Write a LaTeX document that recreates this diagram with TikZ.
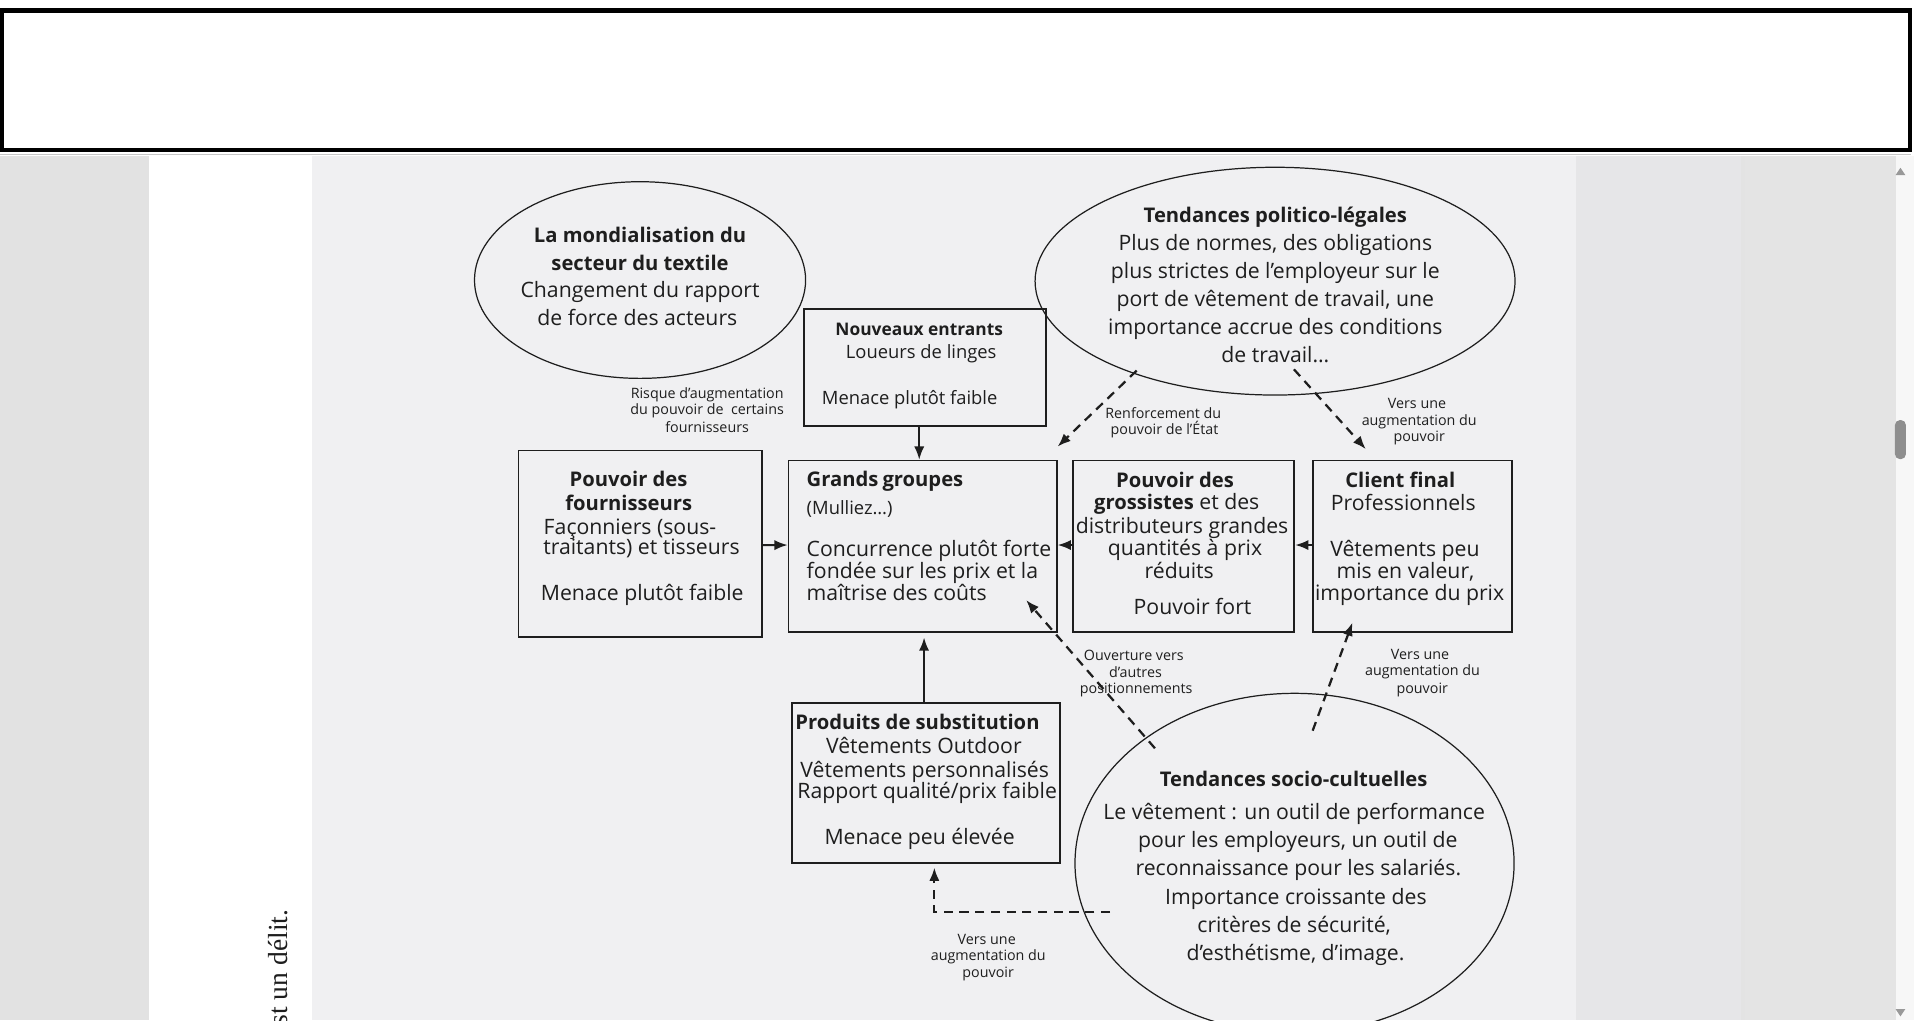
\documentclass[tikz,border=0pt]{standalone}
\usepackage{fontspec}
\setmainfont{Open Sans}
\newfontfamily\serifrot{Liberation Serif}
\usetikzlibrary{shapes.geometric,arrows.meta,calc}
\definecolor{panel}{HTML}{F0F0F2}
\definecolor{panelb}{HTML}{E6E6E8}
\definecolor{side}{HTML}{E4E4E4}
\definecolor{leftg}{HTML}{E2E2E2}
\definecolor{ink}{HTML}{1E1E1E}
\definecolor{thumb}{HTML}{8E8E8E}
\begin{document}
\begin{tikzpicture}[x=0.6pt,y=-0.6pt,
  ell/.style={draw=ink, ellipse, line width=0.6pt, inner sep=0pt},
  boxn/.style={draw=ink, rectangle, line width=0.85pt, inner sep=0pt},
  tm/.style={inner sep=0pt, anchor=base, text=ink, font=\fontsize{10.4}{12}\selectfont},
  tb/.style={tm, font=\fontsize{9.9}{12}\selectfont\bfseries},
  tn/.style={tm, font=\fontsize{9}{11}\selectfont},
  tnb/.style={tm, font=\fontsize{8.5}{11}\selectfont\bfseries},
  ts/.style={tm, font=\fontsize{7}{8}\selectfont},
  arr/.style={draw=ink, line width=1pt, -{Latex[length=6.5pt,width=5pt]}},
  darr/.style={arr, line width=1.1pt, dash pattern=on 4.5pt off 3.2pt}]
\useasboundingbox (0,0) rectangle (1568,833);
% ---------- screen background ----------
\fill[white] (0,0) rectangle (1568,833);
\fill[leftg] (0,127) rectangle (122,833);
\fill[white] (122,127) rectangle (255,833);
\fill[panel] (255,127) rectangle (1287,833);
\fill[panelb] (1287,127) rectangle (1422,833);
\fill[side] (1422,127) rectangle (1548,833);
\fill[black!11] (1422,127) rectangle (1425,833);
\fill[white!97!black] (1548,127) rectangle (1563,833);
\draw[black!22, line width=0.6pt] (0,126) -- (1561,126);
% scrollbar
\fill[black!40] (1548,143) -- (1556,143) -- (1552,137) -- cycle;
\fill[black!40] (1548,824) -- (1556,824) -- (1552,830) -- cycle;
\fill[thumb, rounded corners=2.5pt] (1547.5,343) rectangle (1556.5,375);
% top framed box
\draw[black, line width=2.2pt, fill=white] (1.8,8.6) rectangle (1559.7,122.6);
% rotated page text
\node[rotate=90, anchor=base east, inner sep=0pt, text=ink,
      font=\serifrot\fontsize{13.5}{15}\selectfont] (delit) at (235,742.6) {est un délit.};
% ---------- shapes ----------
\node[ell, minimum width=270.4*0.6pt, minimum height=160.6*0.6pt] (A) at (522.7,228.7) {};
\node[ell, minimum width=392*0.6pt, minimum height=186*0.6pt] (B) at (1041.3,229.6) {};
\node[ell, minimum width=358.6*0.6pt, minimum height=277.6*0.6pt] (T) at (1057.2,705) {};
\node[boxn, minimum width=198.2*0.6pt, minimum height=95.3*0.6pt] (N) at (755.4,300.25) {};
\node[boxn, minimum width=198.7*0.6pt, minimum height=152.4*0.6pt] (F) at (522.85,444.2) {};
\node[boxn, minimum width=219*0.6pt, minimum height=139.7*0.6pt] (G) at (753.5,446) {};
\node[boxn, minimum width=181*0.6pt, minimum height=140*0.6pt] (W) at (966.5,446) {};
\node[boxn, minimum width=162.5*0.6pt, minimum height=140*0.6pt] (C) at (1153.25,446) {};
\node[boxn, minimum width=218.7*0.6pt, minimum height=130.1*0.6pt] (S) at (756.35,639.45) {};
% ---------- texts ----------
% ellipse mondialisation
\node[tb] (a1) at (522.7,198) {La mondialisation du};
\node[tb] (a2) at (522.7,220.5) {secteur du textile};
\node[tm] (a3) at (522.7,243) {Changement du rapport};
\node[tm] (a4) at (520.5,265.5) {de force des acteurs};
% ellipse politico-legales
\node[tb] (b1) at (1041.5,182) {Tendances politico-légales};
\node[tm] (b2) at (1041.5,204.8) {Plus de normes, des obligations};
\node[tm] (b3) at (1041.5,227.6) {plus strictes de l’employeur sur le};
\node[tm] (b4) at (1041.5,250.4) {port de vêtement de travail, une};
\node[tm] (b5) at (1041.5,273.2) {importance accrue des conditions};
\node[tm] (b6) at (1041.5,296) {de travail…};
% nouveaux entrants
\node[tnb] (n1) at (750.7,274.1) {Nouveaux entrants};
\node[tn] (n2) at (752.3,292.6) {Loueurs de linges};
\node[tn] (n3) at (742.9,330.2) {Menace plutôt faible};
% label risque
\node[ts] (r1) at (577.5,325.3) {Risque d’augmentation};
\node[ts] (r2) at (577.5,338.9) {du pouvoir de\ \ certains};
\node[ts] (r3) at (577.5,353) {fournisseurs};
% fournisseurs
\node[tb] (f1) at (513.3,397.4) {Pouvoir des};
\node[tb] (f2) at (513.5,417) {fournisseurs};
\node[tm] (f3) at (514.5,436.9) {Façonniers (sous-};
\node[tm] (f4) at (523.9,453.2) {traitants) et tisseurs};
\node[tm] (f5) at (524.5,490.8) {Menace plutôt faible};
% grands groupes
\node[tb, anchor=base west] (g1) at (658.5,397.4) {Grands\kern2pt groupes};
\node[tn, anchor=base west] (g2) at (658.5,419.8) {(Mulliez…)};
\node[tm, anchor=base west] (g3) at (658.5,454.6) {Concurrence plutôt forte};
\node[tm, anchor=base west] (g4) at (658.5,472.3) {fondée sur les prix et la};
\node[tm, anchor=base west] (g5) at (658.5,490) {maîtrise des coûts};
% grossistes
\node[tb] (w1) at (959.6,398.3) {Pouvoir des};
\node[tm] (w2) at (961,415.7) {{\fontsize{9.9}{12}\selectfont\bfseries grossistes} et des};
\node[tm] (w3) at (965.3,435.6) {distributeurs grandes};
\node[tm] (w4) at (967.8,454) {quantités à prix};
\node[tm] (w5) at (963,472.3) {réduits};
\node[tm] (w6) at (973.9,502.2) {Pouvoir fort};
% client final
\node[tb] (c1) at (1143.6,398.3) {Client final};
\node[tm] (c2) at (1146,417) {Professionnels};
\node[tm] (c3) at (1147.4,454.6) {Vêtements peu};
\node[tm] (c4) at (1147.8,472.3) {mis en valeur,};
\node[tm] (c5) at (1151.2,490) {importance du prix};
% labels upper
\node[ts] (l1) at (950,341.6) {Renforcement du};
\node[ts] (l2) at (951,355.2) {pouvoir de l’État};
\node[ts] (v1) at (1157.2,333.5) {Vers une};
\node[ts] (v2) at (1159,347.1) {augmentation du};
\node[ts] (v3) at (1159,360.7) {pouvoir};
% substitution
\node[tb] (s1) at (749.3,595.6) {Produits de substitution};
\node[tm] (s2) at (754.5,615.2) {Vêtements Outdoor};
\node[tm] (s3) at (755.2,634.8) {Vêtements personnalisés};
\node[tm] (s4) at (757.2,652.5) {Rapport qualité/prix faible};
\node[tm] (s5) at (751,689.3) {Menace peu élevée};
% labels lower
\node[ts] (o1) at (926,539) {Ouverture vers};
\node[ts] (o2) at (927.3,553.2) {d’autres};
\node[ts] (o3) at (927.9,566.2) {positionnements};
\node[ts] (u1) at (1159.7,538.5) {Vers une};
\node[ts] (u2) at (1161.7,552) {augmentation du};
\node[ts] (u3) at (1161.5,566.2) {pouvoir};
\node[ts] (p1) at (805.8,771.7) {Vers une};
\node[ts] (p2) at (807.1,784.5) {augmentation du};
\node[ts] (p3) at (807,798.1) {pouvoir};
% socio-culturelles
\node[tb] (e1) at (1056.5,642.4) {Tendances socio-cultuelles};
\node[tm] (e2) at (1056.9,669.1) {Le vêtement : un outil de performance};
\node[tm] (e3) at (1059.9,692) {pour les employeurs, un outil de};
\node[tm] (e4) at (1060.3,714.6) {reconnaissance pour les salariés.};
\node[tm] (e5) at (1058.3,738.3) {Importance croissante des};
\node[tm] (e6) at (1056.9,761.7) {critères de sécurité,};
\node[tm] (e7) at (1058,784.5) {d’esthétisme, d’image.};
% ---------- connectors ----------
\draw[arr] ($(N.south)+(-4.7,0)$) -- ($(N.south |- G.north)+(-4.7,0)$);
\draw[arr] ($(F.east)+(0,1)$) -- ($(G.west)+(0,-0.9)$);
\draw[arr] ($(W.west)+(0,-0.9)$) -- ($(G.east)+(0,-0.9)$);
\draw[arr] ($(C.west)+(0,-0.9)$) -- ($(W.east)+(0,-0.9)$);
\draw[arr] ($(S.north)+(-1.7,0)$) -- ($(S.north |- G.south)+(-1.7,4)$);
\draw[darr] ($(B.center)+(-113,73)$) -- ($(G.north east)+(0,-10.7)$);
\draw[darr] ($(B.center)+(15.4,72)$) -- ($(C.north west)+(44.1,-8.5)$);
\draw[darr] ($(T.center)+(-114,-93.9)$) -- ($(G.south east)+(-25.7,-26.5)$);
\draw[darr] ($(T.center)+(14.8,-108.3)$) -- ($(C.south west)+(33.2,-8.3)$);
\draw[darr] ($(T.center)+(-150.7,39.5)$) -| ($(S.south)+(6.7,3.3)$);
\end{tikzpicture}
\end{document}
